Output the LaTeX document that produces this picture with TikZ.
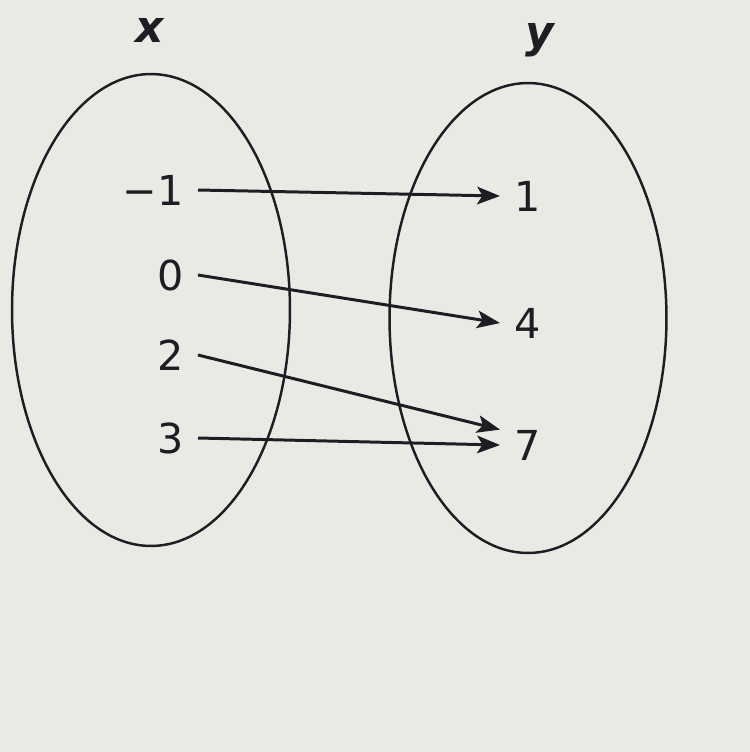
\documentclass[tikz,border=0pt]{standalone}
\usepackage{fontspec}
\setmainfont{DejaVu Sans}
\usetikzlibrary{arrows.meta}

\definecolor{paper}{RGB}{234,234,229}
\definecolor{ink}{RGB}{28,30,36}

\tikzset{
  setoval/.style={draw=ink, line width=1.4pt},
  val/.style={text=ink, font=\fontsize{23.5}{28}\selectfont, inner xsep=8pt, inner ysep=0pt},
  head/.style={text=ink, font=\fontsize{25}{30}\selectfont\bfseries\itshape},
  map/.style={->, draw=ink, line width=1.7pt}
}

\begin{document}
\begin{tikzpicture}[x=0.02cm, y=-0.02cm, >={Stealth[length=13pt,width=10pt,inset=3pt]}]
\fill[paper] (0,0) rectangle (750,752);
\useasboundingbox (0,0) rectangle (750,752);

\node[head] (X) at (150,30) {x};
\node[head] (Y) at (540,40) {y};

\draw[setoval] (151,310) ellipse [x radius=2.78cm, y radius=4.72cm];
\draw[setoval] (528,318) ellipse [x radius=2.77cm, y radius=4.70cm];

% domain
\node[val, anchor=east] (m1) at (198,190) {−1};
\node[val, anchor=east] (d0) at (198,275) {0};
\node[val, anchor=east] (d2) at (198,355) {2};
\node[val, anchor=east] (d3) at (198,438) {3};

% range
\node[val, anchor=west] (r1) at (500,196) {1};
\node[val, anchor=west] (r4) at (500,323) {4};
\node[val, anchor=west] (r7) at (500,445) {7};

\draw[map] (m1.east) -- (r1.west);
\draw[map] (d0.east) -- (r4.west);
\draw[map] (d2.east) -- (r7.north west);
\draw[map] (d3.east) -- (r7.west);
\end{tikzpicture}
\end{document}
